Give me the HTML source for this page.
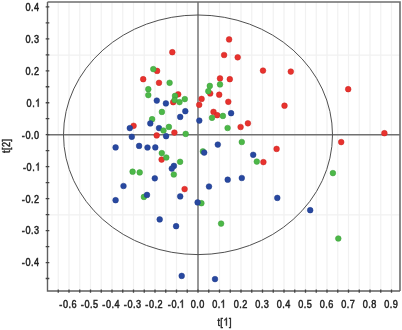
<!DOCTYPE html><html><head><meta charset="utf-8"><style>html,body{margin:0;padding:0;background:#fff;}body{width:402px;height:330px;overflow:hidden;}svg{display:block;}text{font-family:"Liberation Sans",sans-serif;font-size:11px;fill:#222;stroke:#222;stroke-width:0.5px;text-anchor:middle;}svg{will-change:transform;}.lb path{fill:#222;stroke:#222;stroke-width:0.5px;}</style></head><body>
<svg width="402" height="330" viewBox="0 0 402 330">
<rect x="0" y="0" width="402" height="330" fill="#fff"/>
<path d="M58.25 2V291M69 2V291M79.75 2V291M90.5 2V291M101.25 2V291M112 2V291M122.75 2V291M133.5 2V291M144.25 2V291M155 2V291M165.75 2V291M176.5 2V291M187.25 2V291M198 2V291M208.75 2V291M219.5 2V291M230.25 2V291M241 2V291M251.75 2V291M262.5 2V291M273.25 2V291M284 2V291M294.75 2V291M305.5 2V291M316.25 2V291M327 2V291M337.75 2V291M348.5 2V291M359.25 2V291M370 2V291M380.75 2V291M391.5 2V291M47.5 55.1H400M47.5 214.9H400" stroke="#f1f1f1" stroke-width="1.2" fill="none"/>
<path d="M198 2V291M47.5 134.7H400" stroke="#717171" stroke-width="1.4" fill="none"/>
<ellipse cx="198" cy="134.8" rx="134.5" ry="119.8" stroke="#505050" stroke-width="1" fill="none"/>
<path d="M47.5 2H400V291" stroke="#6e6e6e" stroke-width="1.6" fill="none"/>
<path d="M47.5 2V291H400" stroke="#606060" stroke-width="1.4" fill="none"/>
<path d="M58.25 289.4V292.8M69 289.4V292.8M79.75 289.4V292.8M90.5 289.4V292.8M101.25 289.4V292.8M112 289.4V292.8M122.75 289.4V292.8M133.5 289.4V292.8M144.25 289.4V292.8M155 289.4V292.8M165.75 289.4V292.8M176.5 289.4V292.8M187.25 289.4V292.8M198 289.4V292.8M208.75 289.4V292.8M219.5 289.4V292.8M230.25 289.4V292.8M241 289.4V292.8M251.75 289.4V292.8M262.5 289.4V292.8M273.25 289.4V292.8M284 289.4V292.8M294.75 289.4V292.8M305.5 289.4V292.8M316.25 289.4V292.8M327 289.4V292.8M337.75 289.4V292.8M348.5 289.4V292.8M359.25 289.4V292.8M370 289.4V292.8M380.75 289.4V292.8M391.5 289.4V292.8M45.7 278.52H49.3M45.7 262.54H49.3M45.7 246.56H49.3M45.7 230.58H49.3M45.7 214.6H49.3M45.7 198.62H49.3M45.7 182.64H49.3M45.7 166.66H49.3M45.7 150.68H49.3M45.7 134.7H49.3M45.7 118.72H49.3M45.7 102.74H49.3M45.7 86.76H49.3M45.7 70.78H49.3M45.7 54.8H49.3M45.7 38.82H49.3M45.7 22.84H49.3M45.7 6.86H49.3" stroke="#444" stroke-width="1.3" fill="none"/>
<g fill="#e8322e" stroke="#c82622" stroke-width="0.5"><circle cx="172.3" cy="52.2" r="2.85"/><circle cx="157.1" cy="70.9" r="2.85"/><circle cx="143.2" cy="79.2" r="2.85"/><circle cx="159" cy="82.8" r="2.85"/><circle cx="178.2" cy="94.3" r="2.85"/><circle cx="173.2" cy="102.2" r="2.85"/><circle cx="229.1" cy="39.4" r="2.85"/><circle cx="224.1" cy="55" r="2.85"/><circle cx="237.7" cy="57.3" r="2.85"/><circle cx="220" cy="78.4" r="2.85"/><circle cx="229.8" cy="79.2" r="2.85"/><circle cx="210.2" cy="93.5" r="2.85"/><circle cx="219.2" cy="94.7" r="2.85"/><circle cx="201.6" cy="98.9" r="2.85"/><circle cx="199.2" cy="104.8" r="2.85"/><circle cx="228.3" cy="101.8" r="2.85"/><circle cx="213.5" cy="111.9" r="2.85"/><circle cx="217.2" cy="115.2" r="2.85"/><circle cx="240.6" cy="127" r="2.85"/><circle cx="247.9" cy="123.3" r="2.85"/><circle cx="263" cy="70.6" r="2.85"/><circle cx="290.8" cy="71.6" r="2.85"/><circle cx="348.2" cy="89.2" r="2.85"/><circle cx="284.5" cy="105.7" r="2.85"/><circle cx="384.4" cy="133.2" r="2.85"/><circle cx="341.2" cy="142.1" r="2.85"/><circle cx="276.6" cy="148.9" r="2.85"/><circle cx="263.4" cy="162.1" r="2.85"/><circle cx="133.6" cy="125.8" r="2.85"/><circle cx="156.7" cy="135.4" r="2.85"/><circle cx="174.4" cy="132.6" r="2.85"/><circle cx="161.6" cy="159.6" r="2.85"/><circle cx="184.6" cy="189.1" r="2.85"/></g>
<g fill="#2848a0" stroke="#203c8a" stroke-width="0.5"><circle cx="159" cy="128.1" r="2.85"/></g>
<g fill="#4cb848" stroke="#3c9c3a" stroke-width="0.5"><circle cx="153.3" cy="69.1" r="2.85"/><circle cx="169.6" cy="82.8" r="2.85"/><circle cx="148.3" cy="89.2" r="2.85"/><circle cx="148.3" cy="95.1" r="2.85"/><circle cx="175" cy="95.9" r="2.85"/><circle cx="174.6" cy="100" r="2.85"/><circle cx="179.5" cy="102.1" r="2.85"/><circle cx="184.8" cy="99.1" r="2.85"/><circle cx="220" cy="84.4" r="2.85"/><circle cx="209.8" cy="85.9" r="2.85"/><circle cx="208.3" cy="91.2" r="2.85"/><circle cx="212" cy="117.8" r="2.85"/><circle cx="222.9" cy="115.9" r="2.85"/><circle cx="227.6" cy="128" r="2.85"/><circle cx="241.8" cy="142" r="2.85"/><circle cx="256.8" cy="161.6" r="2.85"/><circle cx="332.9" cy="173.1" r="2.85"/><circle cx="338.3" cy="238.5" r="2.85"/><circle cx="161.9" cy="111.9" r="2.85"/><circle cx="152.1" cy="119.2" r="2.85"/><circle cx="163.5" cy="130.5" r="2.85"/><circle cx="168.9" cy="126.9" r="2.85"/><circle cx="185.7" cy="133.9" r="2.85"/><circle cx="161.8" cy="153.1" r="2.85"/><circle cx="166.3" cy="157.5" r="2.85"/><circle cx="180.1" cy="161.8" r="2.85"/><circle cx="173.8" cy="174.5" r="2.85"/><circle cx="132.6" cy="171.7" r="2.85"/><circle cx="139.7" cy="172.4" r="2.85"/><circle cx="143.9" cy="196.9" r="2.85"/><circle cx="202.9" cy="151.4" r="2.85"/><circle cx="201.4" cy="203.2" r="2.85"/><circle cx="221.1" cy="223.6" r="2.85"/></g>
<g fill="#2848a0" stroke="#203c8a" stroke-width="0.5"><circle cx="156.8" cy="100.6" r="2.85"/><circle cx="165.9" cy="103.4" r="2.85"/><circle cx="185.3" cy="111.2" r="2.85"/><circle cx="180.2" cy="116.9" r="2.85"/><circle cx="199.3" cy="120.6" r="2.85"/><circle cx="231.1" cy="113.2" r="2.85"/><circle cx="217.8" cy="144.6" r="2.85"/><circle cx="204.2" cy="152.6" r="2.85"/><circle cx="253.2" cy="154.8" r="2.85"/><circle cx="241.8" cy="178" r="2.85"/><circle cx="277.3" cy="197.9" r="2.85"/><circle cx="310.2" cy="210.2" r="2.85"/><circle cx="129.8" cy="128.1" r="2.85"/><circle cx="131.8" cy="136.8" r="2.85"/><circle cx="115.6" cy="147.4" r="2.85"/><circle cx="139.1" cy="145.9" r="2.85"/><circle cx="147.5" cy="147.5" r="2.85"/><circle cx="155.3" cy="147.4" r="2.85"/><circle cx="150.3" cy="123.4" r="2.85"/><circle cx="166.1" cy="136.2" r="2.85"/><circle cx="173.9" cy="165.9" r="2.85"/><circle cx="171.8" cy="168.6" r="2.85"/><circle cx="154.8" cy="178.3" r="2.85"/><circle cx="123.5" cy="186" r="2.85"/><circle cx="115.6" cy="200.2" r="2.85"/><circle cx="147" cy="194.9" r="2.85"/><circle cx="180.2" cy="196.4" r="2.85"/><circle cx="227.7" cy="179.7" r="2.85"/><circle cx="209" cy="186.5" r="2.85"/><circle cx="197.6" cy="202.4" r="2.85"/><circle cx="159.7" cy="219.4" r="2.85"/><circle cx="176.1" cy="226.2" r="2.85"/><circle cx="181.7" cy="275.9" r="2.85"/><circle cx="215" cy="279.1" r="2.85"/></g>
<g class="lb"><g transform="translate(68 307.7)"><text transform="translate(-7.15 0) scale(0.83 1)">-</text><text transform="translate(-2.58 0) scale(0.83 1)">0</text><text transform="translate(1.71 0) scale(0.83 1)">.</text><text transform="translate(6 0) scale(0.83 1)">6</text></g><g transform="translate(89.5 307.7)"><text transform="translate(-7.15 0) scale(0.83 1)">-</text><text transform="translate(-2.58 0) scale(0.83 1)">0</text><text transform="translate(1.71 0) scale(0.83 1)">.</text><text transform="translate(6 0) scale(0.83 1)">5</text></g><g transform="translate(111 307.7)"><text transform="translate(-7.15 0) scale(0.83 1)">-</text><text transform="translate(-2.58 0) scale(0.83 1)">0</text><text transform="translate(1.71 0) scale(0.83 1)">.</text><text transform="translate(6 0) scale(0.83 1)">4</text></g><g transform="translate(132.5 307.7)"><text transform="translate(-7.15 0) scale(0.83 1)">-</text><text transform="translate(-2.58 0) scale(0.83 1)">0</text><text transform="translate(1.71 0) scale(0.83 1)">.</text><text transform="translate(6 0) scale(0.83 1)">3</text></g><g transform="translate(154 307.7)"><text transform="translate(-7.15 0) scale(0.83 1)">-</text><text transform="translate(-2.58 0) scale(0.83 1)">0</text><text transform="translate(1.71 0) scale(0.83 1)">.</text><text transform="translate(6 0) scale(0.83 1)">2</text></g><g transform="translate(176.5 307.7)"><text transform="translate(-7.15 0) scale(0.83 1)">-</text><text transform="translate(-2.58 0) scale(0.83 1)">0</text><text transform="translate(1.71 0) scale(0.83 1)">.</text><path transform="translate(5.4 0) scale(0.83 1) translate(-3.058 0)" d="M4.098 0L3.131 0L3.131-6.161Q2.782-5.828 2.218-5.495Q1.649-5.162 1.198-4.995L1.198-5.93Q2.009-6.311 2.616-6.854Q3.223-7.396 3.475-7.906L4.098-7.906Z"/></g><g transform="translate(197.6 307.7)"><text transform="translate(-4.29 0) scale(0.83 1)">0</text><text transform="translate(0 0) scale(0.83 1)">.</text><text transform="translate(4.29 0) scale(0.83 1)">0</text></g><g transform="translate(219.1 307.7)"><text transform="translate(-4.29 0) scale(0.83 1)">0</text><text transform="translate(0 0) scale(0.83 1)">.</text><path transform="translate(3.89 0) scale(0.83 1) translate(-3.058 0)" d="M4.098 0L3.131 0L3.131-6.161Q2.782-5.828 2.218-5.495Q1.649-5.162 1.198-4.995L1.198-5.93Q2.009-6.311 2.616-6.854Q3.223-7.396 3.475-7.906L4.098-7.906Z"/></g><g transform="translate(240.6 307.7)"><text transform="translate(-4.29 0) scale(0.83 1)">0</text><text transform="translate(0 0) scale(0.83 1)">.</text><text transform="translate(4.29 0) scale(0.83 1)">2</text></g><g transform="translate(262.1 307.7)"><text transform="translate(-4.29 0) scale(0.83 1)">0</text><text transform="translate(0 0) scale(0.83 1)">.</text><text transform="translate(4.29 0) scale(0.83 1)">3</text></g><g transform="translate(283.6 307.7)"><text transform="translate(-4.29 0) scale(0.83 1)">0</text><text transform="translate(0 0) scale(0.83 1)">.</text><text transform="translate(4.29 0) scale(0.83 1)">4</text></g><g transform="translate(305.1 307.7)"><text transform="translate(-4.29 0) scale(0.83 1)">0</text><text transform="translate(0 0) scale(0.83 1)">.</text><text transform="translate(4.29 0) scale(0.83 1)">5</text></g><g transform="translate(326.6 307.7)"><text transform="translate(-4.29 0) scale(0.83 1)">0</text><text transform="translate(0 0) scale(0.83 1)">.</text><text transform="translate(4.29 0) scale(0.83 1)">6</text></g><g transform="translate(348.1 307.7)"><text transform="translate(-4.29 0) scale(0.83 1)">0</text><text transform="translate(0 0) scale(0.83 1)">.</text><text transform="translate(4.29 0) scale(0.83 1)">7</text></g><g transform="translate(369.6 307.7)"><text transform="translate(-4.29 0) scale(0.83 1)">0</text><text transform="translate(0 0) scale(0.83 1)">.</text><text transform="translate(4.29 0) scale(0.83 1)">8</text></g><g transform="translate(391.1 307.7)"><text transform="translate(-4.29 0) scale(0.83 1)">0</text><text transform="translate(0 0) scale(0.83 1)">.</text><text transform="translate(4.29 0) scale(0.83 1)">9</text></g><g transform="translate(39.4 10.76)"><text transform="translate(-11.44 0) scale(0.83 1)">0</text><text transform="translate(-7.15 0) scale(0.83 1)">.</text><text transform="translate(-2.86 0) scale(0.83 1)">4</text></g><g transform="translate(39.4 42.72)"><text transform="translate(-11.44 0) scale(0.83 1)">0</text><text transform="translate(-7.15 0) scale(0.83 1)">.</text><text transform="translate(-2.86 0) scale(0.83 1)">3</text></g><g transform="translate(39.4 74.68)"><text transform="translate(-11.44 0) scale(0.83 1)">0</text><text transform="translate(-7.15 0) scale(0.83 1)">.</text><text transform="translate(-2.86 0) scale(0.83 1)">2</text></g><g transform="translate(40.6 106.64)"><text transform="translate(-11.44 0) scale(0.83 1)">0</text><text transform="translate(-7.15 0) scale(0.83 1)">.</text><path transform="translate(-2.86 0) scale(0.83 1) translate(-3.058 0)" d="M4.098 0L3.131 0L3.131-6.161Q2.782-5.828 2.218-5.495Q1.649-5.162 1.198-4.995L1.198-5.93Q2.009-6.311 2.616-6.854Q3.223-7.396 3.475-7.906L4.098-7.906Z"/></g><g transform="translate(39.4 138.6)"><text transform="translate(-16.01 0) scale(0.83 1)">-</text><text transform="translate(-11.44 0) scale(0.83 1)">0</text><text transform="translate(-7.15 0) scale(0.83 1)">.</text><text transform="translate(-2.86 0) scale(0.83 1)">0</text></g><g transform="translate(40.6 170.56)"><text transform="translate(-16.01 0) scale(0.83 1)">-</text><text transform="translate(-11.44 0) scale(0.83 1)">0</text><text transform="translate(-7.15 0) scale(0.83 1)">.</text><path transform="translate(-2.86 0) scale(0.83 1) translate(-3.058 0)" d="M4.098 0L3.131 0L3.131-6.161Q2.782-5.828 2.218-5.495Q1.649-5.162 1.198-4.995L1.198-5.93Q2.009-6.311 2.616-6.854Q3.223-7.396 3.475-7.906L4.098-7.906Z"/></g><g transform="translate(39.4 202.52)"><text transform="translate(-16.01 0) scale(0.83 1)">-</text><text transform="translate(-11.44 0) scale(0.83 1)">0</text><text transform="translate(-7.15 0) scale(0.83 1)">.</text><text transform="translate(-2.86 0) scale(0.83 1)">2</text></g><g transform="translate(39.4 234.48)"><text transform="translate(-16.01 0) scale(0.83 1)">-</text><text transform="translate(-11.44 0) scale(0.83 1)">0</text><text transform="translate(-7.15 0) scale(0.83 1)">.</text><text transform="translate(-2.86 0) scale(0.83 1)">3</text></g><g transform="translate(39.4 266.44)"><text transform="translate(-16.01 0) scale(0.83 1)">-</text><text transform="translate(-11.44 0) scale(0.83 1)">0</text><text transform="translate(-7.15 0) scale(0.83 1)">.</text><text transform="translate(-2.86 0) scale(0.83 1)">4</text></g><g transform="translate(224.5 325.6)"><text transform="translate(-5.72 0) scale(0.83 1)">t</text><text transform="translate(-2.86 0) scale(0.83 1)">[</text><path transform="translate(1.43 0) scale(0.83 1) translate(-3.058 0)" d="M4.098 0L3.131 0L3.131-6.161Q2.782-5.828 2.218-5.495Q1.649-5.162 1.198-4.995L1.198-5.93Q2.009-6.311 2.616-6.854Q3.223-7.396 3.475-7.906L4.098-7.906Z"/><text transform="translate(5.72 0) scale(0.83 1)">]</text></g><g transform="translate(9.7 146) rotate(-90)"><text transform="translate(-5.72 0) scale(0.83 1)">t</text><text transform="translate(-2.86 0) scale(0.83 1)">[</text><text transform="translate(1.43 0) scale(0.83 1)">2</text><text transform="translate(5.72 0) scale(0.83 1)">]</text></g></g>
</svg></body></html>
